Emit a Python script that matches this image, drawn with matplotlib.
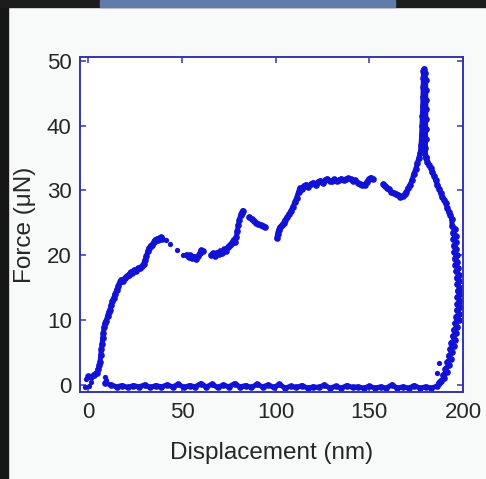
import matplotlib
matplotlib.use("Agg")
import matplotlib.pyplot as plt
from matplotlib.patches import Rectangle
import numpy as np

plt.rcParams['font.family'] = ['Liberation Sans', 'DejaVu Sans']

# loading branch, NaN breaks the gaps seen in the trace
load_x = [0.0, 1.5, 3.0, 4.4, 5.2, 5.8, 6.2, 6.6, 6.9, 7.3, 7.6, 8.0, 8.4, 8.9, 9.5,
          10.2, 10.8, 11.5, 12.2, 12.8, 13.5, 14.2, 15.0, 15.8, 16.6, 17.5, 18.5,
          19.5, 20.5, 21.5, 22.5, 23.5, 24.5, 25.5, 26.5, 27.5, 28.5, 29.5, 30.3,
          31.0, 31.7, 32.4, 33.2, 34.0, 34.8, 35.6, 36.4, 37.2, 38.0, 38.8, 39.5,
          np.nan,
          52.5, 53.5, 54.5, 55.5, 56.5, 57.5, 58.5, 59.5, 60.3, 61.2,
          np.nan,
          65.5, 66.5, 67.5, 68.5, 69.5, 70.5, 71.5, 72.5, 73.5, 74.5, 75.5, 76.5,
          77.5, 78.3, 79.0, 79.5, 80.0, 80.6, 81.2, 81.8, 82.4,
          np.nan,
          86.0, 87.2, 88.4, 89.6, 90.8, 92.0, 93.2, 94.2,
          np.nan,
          100.6, 101.0, 101.5, 102.3, 103.2, 104.2, 105.2, 106.2, 107.2, 108.2,
          109.2, 110.2, 111.2, 112.2, 113.0, 114.0, 115.0, 116.2, 117.5, 118.8,
          120.0, 121.3, 122.5, 123.8, 125.0, 126.3, 127.5, 128.8, 130.0, 131.3,
          132.5, 133.8, 135.0, 136.3, 137.5, 138.8, 140.0, 141.3, 142.5, 143.8,
          145.0, 146.3, 147.5, 148.7, 149.8, 150.8, 151.8,
          np.nan,
          157.5, 158.5, 159.5, 160.6, 161.8, 163.0, 164.2, 165.4, 166.6, 167.8,
          168.8, 169.8, 170.8, 171.8, 172.8, 173.8, 174.8, 175.6, 176.4, 177.2,
          177.6, 177.9, 178.1, 178.3, 178.5, 178.6, 178.7, 178.8, 178.9, 179.3]
load_y = [1.3, 1.2, 1.6, 1.9, 2.4, 3.0, 3.6, 4.6, 5.5, 6.3, 7.2, 8.0, 8.9, 9.5, 9.9,
          10.6, 11.2, 11.6, 12.3, 12.9, 13.4, 14.0, 14.6, 15.2, 15.8, 16.2, 16.1,
          16.5, 16.8, 17.0, 17.4, 17.3, 17.7, 17.6, 18.0, 18.1, 18.3, 18.7, 19.3,
          19.9, 20.6, 21.1, 21.5, 21.6, 22.0, 22.3, 22.5, 22.4, 22.7, 22.8, 22.5,
          np.nan,
          20.1, 19.8, 20.0, 19.6, 19.8, 19.5, 19.9, 20.3, 20.8, 20.6,
          np.nan,
          20.0, 20.3, 19.9, 20.4, 20.2, 20.6, 20.4, 20.9, 20.7, 21.3, 21.6, 21.9,
          22.4, 22.1, 22.8, 23.8, 24.6, 25.4, 26.2, 26.6, 26.9,
          np.nan,
          25.9, 25.6, 25.3, 25.0, 24.8, 24.7, 24.5, 24.4,
          np.nan,
          22.6, 23.3, 23.9, 24.3, 24.6, 25.0, 25.4, 25.9, 26.4, 26.9,
          27.5, 28.2, 28.9, 29.8, 30.4, 30.2, 30.7, 30.9, 30.6, 31.0,
          31.2, 30.9, 31.3, 31.5, 31.2, 31.6, 31.8, 31.5, 31.4, 31.7,
          31.5, 31.6, 31.8, 31.6, 31.7, 31.9, 31.7, 31.5, 31.6, 31.2,
          31.0, 30.8, 30.9, 31.3, 31.8, 32.0, 31.7,
          np.nan,
          31.0, 30.7, 30.4, 30.2, 29.7, 29.6, 29.4, 29.3, 29.0, 29.2,
          29.4, 29.8, 30.4, 30.9, 31.6, 32.6, 33.3, 34.2, 35.0, 35.8,
          37.0, 38.5, 40.0, 41.5, 43.0, 44.5, 46.0, 47.3, 48.4, 48.8]

# unloading branch, from the peak back to zero
unload_x = [179.8, 180.0, 180.1, 180.1, 180.2, 180.1, 180.0, 180.0, 179.9, 180.0,
            180.3, 181.0, 181.8, 182.7, 183.6, 184.5, 185.4, 186.3, 187.2, 188.1,
            189.0, 189.9, 190.8, 191.6, 192.4, 193.2, 194.0,
            194.2, 195.6, 194.6, 196.0, 194.8, 196.2, 195.0, 196.4, 195.2, 196.6,
            195.5, 197.0, 195.9, 197.4, 196.3, 197.8, 196.6, 198.1, 196.9, 198.4,
            197.1, 198.6, 197.0, 198.5, 196.9, 198.3, 196.6, 198.0, 196.2, 197.6,
            195.6, 197.0, 195.0, 196.4, 194.4, 195.7, 193.7, 195.0, 193.0, 194.2,
            192.3, 193.4, 191.5, 192.4, 190.5, 191.3, 189.3, 189.8, 188.0, 187.0]
unload_y = [48.2, 47.0, 45.5, 44.0, 42.5, 41.0, 39.5, 38.0, 36.5, 35.2,
            35.0, 34.4, 33.9, 33.5, 32.9, 32.3, 31.6, 30.9, 30.3, 29.6,
            29.0, 28.5, 28.0, 27.3, 26.7, 26.2, 25.6,
            24.5, 24.0, 23.5, 23.0, 22.5, 22.0, 21.5, 21.0, 20.5, 20.0,
            19.5, 19.0, 18.5, 18.0, 17.5, 17.0, 16.5, 16.0, 15.5, 15.0,
            14.5, 14.0, 13.5, 13.0, 12.5, 12.0, 11.5, 11.0, 10.5, 10.0,
            9.5, 9.0, 8.5, 8.0, 7.5, 7.0, 6.5, 6.0, 5.5, 5.0,
            4.5, 4.0, 3.5, 3.0, 2.5, 2.0, 1.5, 1.0, 0.6, 0.3]

# return along the baseline
base_x = [186, 183, 180, 177, 174, 171, 168, 165, 162, 159, 156, 153, 150, 147,
          144, 141, 138, 135, 132, 129, 126, 123, 120, 117, 114, 111, 108, 105,
          102, 99, 96, 93, 90, 87, 84, 81, 78, 75, 72, 69, 66, 63, 60, 57, 54,
          51, 48, 45, 42, 39, 36, 33, 30, 27, 24, 21, 18, 15, 12, 9]
base_y = [-0.2, -0.5, -0.3, -0.5, -0.1, -0.5, -0.3, -0.5, 0.0, -0.5, -0.3, -0.5,
          -0.2, -0.5, -0.3, -0.4, -0.1, -0.5, -0.2, -0.5, 0.0, -0.4, -0.3, -0.5,
          -0.1, -0.4, -0.2, -0.5, 0.1, -0.4, 0.0, -0.3, 0.1, -0.4, -0.1, -0.3,
          0.2, -0.3, 0.0, -0.4, 0.1, -0.3, 0.2, -0.3, -0.1, -0.4, 0.1, -0.3,
          0.0, -0.3, -0.1, -0.4, 0.0, -0.3, -0.1, -0.4, -0.1, -0.3, 0.0, 0.3]

# isolated dots
stray_x = [-1.8, -1.2, 0.5, 1.2, 8.6, 9.2, 41.2, 43.4, 47.5, 50.7, 187.2, 186.2]
stray_y = [-0.4, 0.9, -0.2, 0.4, 1.2, 0.7, 22.4, 21.8, 20.8, 20.0, 3.3, 1.8]

DATA_C = '#1212d4'
AX_C = '#3434b0'
TXT_C = '#262626'

fig = plt.figure(figsize=(4.86, 4.79), dpi=100, facecolor='#f8f9f9')
ax = fig.add_axes([80 / 486, 1 - 392 / 479, 383 / 486, 335 / 479])
ax.set_facecolor('white')

for xs, ys in ((load_x, load_y), (unload_x, unload_y), (base_x, base_y)):
    ax.plot(xs, ys, '-', color=DATA_C, lw=3.6, solid_capstyle='round')
    ax.plot(xs, ys, 'o', color=DATA_C, ms=4.8, mew=0)
ax.plot(stray_x, stray_y, 'o', color=DATA_C, ms=3.8, mew=0)

ax.set_xlim(-4.5, 200)
ax.set_ylim(-1.1, 50.6)
ax.set_xticks([0, 50, 100, 150, 200])
ax.set_yticks([0, 10, 20, 30, 40, 50])
ax.tick_params(direction='in', length=4, width=1.1, color=AX_C,
               top=True, right=True, labelsize=16, labelcolor=TXT_C)
ax.tick_params(axis='x', pad=7)
ax.tick_params(axis='y', pad=6)
for sp in ax.spines.values():
    sp.set_color(AX_C)
    sp.set_linewidth(1.4)

ax.set_xlabel('Displacement (nm)', fontsize=17.5, color=TXT_C, labelpad=14)
ax.set_ylabel('Force (\u03bcN)', fontsize=17.5, color=TXT_C, labelpad=8)

# dark frame of the photographed slide
fig.add_artist(Rectangle((0, 0), 8 / 486, 1, transform=fig.transFigure,
                         color='#161616', zorder=10))
fig.add_artist(Rectangle((0, 1 - 7 / 479), 1, 7 / 479, transform=fig.transFigure,
                         color='#1c1c1c', zorder=10))
fig.add_artist(Rectangle((100 / 486, 1 - 7 / 479), 295 / 486, 7 / 479,
                         transform=fig.transFigure, color='#5f7cab', zorder=11))

fig.savefig('out.png', dpi=100, facecolor=fig.get_facecolor())
